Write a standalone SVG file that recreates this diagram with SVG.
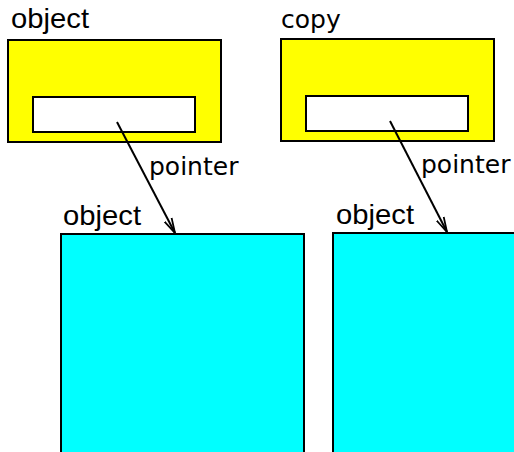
<svg xmlns="http://www.w3.org/2000/svg" width="514" height="452" viewBox="0 0 514 452">
<defs>
<style>
.outer{fill:#ffff00;stroke:#000;stroke-width:2}
.inner{fill:#fff;stroke:#000;stroke-width:2}
.target{fill:#00ffff;stroke:#000;stroke-width:2}
.ta{font-family:"Liberation Sans",Arial,sans-serif;font-size:28px;fill:#000}
.td{font-family:"DejaVu Sans",sans-serif;font-size:25px;fill:#000}
.conn{stroke:#000;stroke-width:2;fill:none}
</style>
<marker id="arr" viewBox="0 0 16 12" refX="15" refY="6" markerWidth="16" markerHeight="12" markerUnits="userSpaceOnUse" orient="auto">
<path d="M0,2 L15,6 L0,10" fill="none" stroke="#000" stroke-width="1.8"/>
</marker>
</defs>
<g id="object1">
<rect class="outer" x="8" y="40" width="213" height="102"/>
<rect class="inner" x="33" y="97" width="162" height="35"/>
<text class="ta" x="11" y="28" textLength="78" lengthAdjust="spacingAndGlyphs">object</text>
</g>
<g id="copy1">
<rect class="outer" x="281" y="39" width="213" height="102"/>
<rect class="inner" x="306" y="96" width="162" height="35"/>
<text class="td" x="281" y="28">copy</text>
</g>
<g id="object2">
<rect class="target" x="61" y="234" width="243" height="230"/>
<text class="ta" x="63" y="225" textLength="78" lengthAdjust="spacingAndGlyphs">object</text>
</g>
<g id="object3">
<rect class="target" x="333" y="233" width="200" height="230"/>
<text class="ta" x="336" y="224" textLength="78" lengthAdjust="spacingAndGlyphs">object</text>
</g>
<g id="connectors">
<line class="conn" x1="117" y1="122" x2="175" y2="233" marker-end="url(#arr)"/>
<line class="conn" x1="390" y1="121" x2="447" y2="232" marker-end="url(#arr)"/>
<text class="td" x="149" y="175">pointer</text>
<text class="td" x="421" y="173">pointer</text>
</g>
</svg>
